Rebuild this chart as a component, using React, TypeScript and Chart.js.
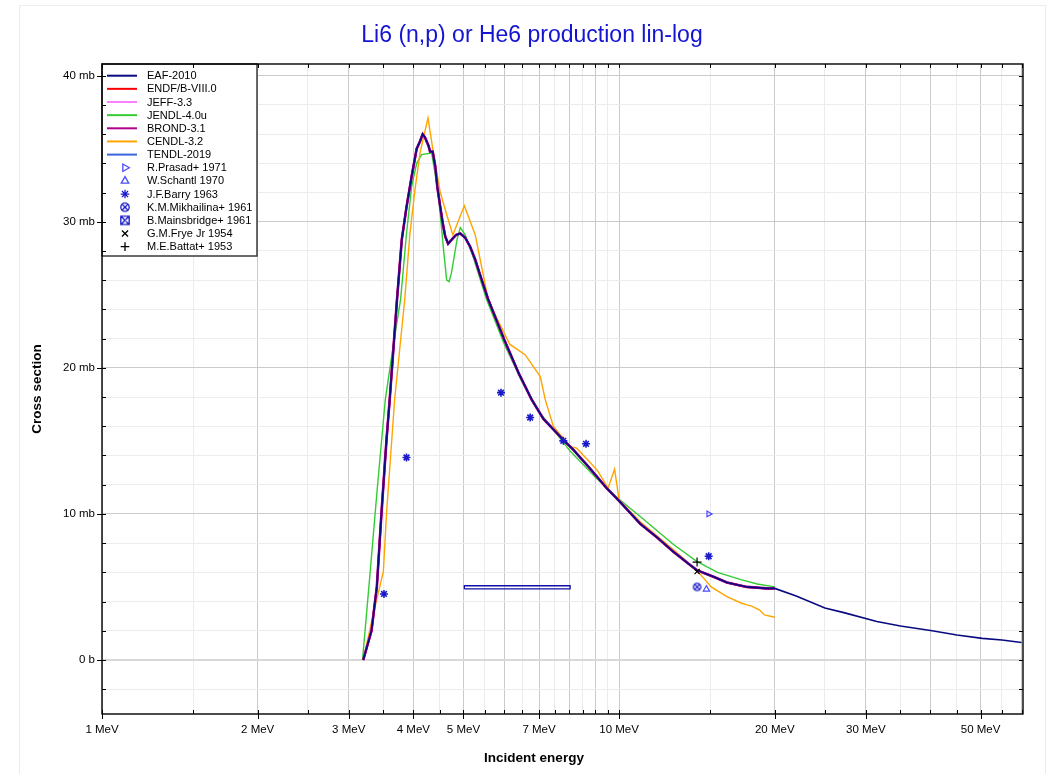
import React, { useEffect, useRef } from 'react';
import { Chart, registerables } from 'chart.js';
import { drawPoint } from 'chart.js/helpers';

Chart.register(...registerables);

// ---------- texts ----------
const TITLE = 'Li6 (n,p) or He6 production lin-log';
const X_TITLE = 'Incident energy';
const Y_TITLE = 'Cross section';

// ---------- axes ----------
const xTickValues = [1, 1.5, 2, 2.5, 3, 3.5, 4, 4.5, 5, 5.5, 6, 6.5, 7, 7.5, 8, 8.5, 9, 9.5, 10, 15, 20, 25, 30, 35, 40, 45, 50, 55, 60];
const xLabeled = [1, 2, 3, 4, 5, 7, 10, 20, 30, 50];
const xDarkGrid = [1, 2, 3, 4, 5, 6, 7, 8, 9, 10, 20, 30, 40, 50, 60];
const yTickValues = [-2, 0, 2, 4, 6, 8, 10, 12, 14, 16, 18, 20, 22, 24, 26, 28, 30, 32, 34, 36, 38, 40];
const yLabeled = [0, 10, 20, 30, 40];

// ---------- evaluations (MeV, mb) ----------
const evalEnergy = [3.2, 3.32, 3.4, 3.47, 3.55, 3.6, 3.72, 3.8, 3.88, 3.97, 4.06, 4.12, 4.17, 4.21, 4.28, 4.31, 4.36, 4.41, 4.45, 4.51, 4.56, 4.61, 4.67, 4.75, 4.84, 4.93, 5.04, 5.15, 5.27, 5.38, 5.58, 6.0, 6.4, 6.78, 7.14, 7.8, 8.16, 8.6, 8.72, 9.46, 10.03, 11.0, 11.83, 12.74, 13.72, 14.13, 15.22, 16.16, 17.66, 19.3, 20.0];
const evalXs = [0, 2.0, 5.0, 10.0, 15.1, 17.8, 24.7, 28.8, 31.0, 33.1, 35.0, 35.5, 36.0, 35.8, 35.2, 34.8, 34.8, 33.8, 32.4, 31.0, 29.9, 29.0, 28.5, 28.8, 29.1, 29.2, 28.9, 28.3, 27.4, 26.4, 24.7, 21.9, 19.6, 17.8, 16.5, 15.07, 14.38, 13.47, 13.24, 11.76, 10.84, 9.3, 8.4, 7.4, 6.5, 6.15, 5.7, 5.3, 5.0, 4.9, 4.9];

const eafTailEnergy = [22.0, 25.0, 27.2, 31.5, 35.0, 40.3, 45.0, 50.4, 55.0, 60.0];
const eafTailXs = [4.38, 3.55, 3.24, 2.63, 2.33, 2.0, 1.71, 1.48, 1.37, 1.2];

const jendlEnergy = [3.19, 3.3, 3.4, 3.53, 3.65, 3.78, 3.88, 3.97, 4.06, 4.15, 4.34, 4.47, 4.57, 4.64, 4.69, 4.74, 4.86, 4.93, 5.04, 5.22, 5.54, 6.0, 6.5, 7.04, 8.04, 9.0, 10.0, 11.0, 12.74, 14.13, 15.5, 17.2, 18.5, 20.0];
const jendlXs = [0, 6.0, 11.4, 17.8, 21.3, 24.7, 29.2, 32.4, 34.0, 34.6, 34.7, 32.0, 28.3, 26.0, 25.9, 26.5, 28.8, 29.6, 29.1, 27.6, 24.7, 21.6, 19.0, 16.9, 14.3, 12.5, 11.0, 9.8, 7.9, 6.75, 6.0, 5.5, 5.2, 5.0];

const cendlEnergy = [3.2, 3.35, 3.5, 3.55, 3.68, 3.85, 3.94, 4.03, 4.12, 4.27, 4.37, 4.51, 4.64, 4.77, 5.02, 5.27, 5.58, 5.8, 6.15, 6.58, 7.04, 7.2, 7.46, 8.04, 8.28, 9.07, 9.52, 9.8, 10.0, 11.0, 12.74, 14.13, 15.07, 16.16, 17.2, 17.66, 18.0, 18.7, 19.1, 20.0];
const cendlXs = [0, 3.2, 6.05, 10.05, 17.8, 24.7, 29.2, 32.2, 34.7, 37.1, 34.8, 32.0, 30.5, 29.1, 31.1, 29.1, 24.7, 23.4, 21.6, 20.9, 19.4, 17.8, 16.0, 14.6, 14.5, 13.0, 11.76, 13.06, 10.96, 9.45, 7.55, 6.15, 5.0, 4.34, 3.9, 3.77, 3.7, 3.42, 3.08, 2.92];

// ---------- experiments (MeV, mb) ----------
const prasadEnergy = [14.9];
const prasadXs = [10.0];
const schantlEnergy = [14.75];
const schantlXs = [4.84];
const barryEnergy = [3.51, 3.88, 5.91, 6.73, 7.8, 8.63, 14.9];
const barryXs = [4.52, 13.86, 18.3, 16.6, 15.0, 14.8, 7.1];
const mikhailinaEnergy = [14.15];
const mikhailinaXs = [5.0];
const mainsbridgeEnergyLow = [5.02];
const mainsbridgeEnergyHigh = [8.04];
const mainsbridgeXs = [4.97];
const mainsbridgeErr = [0.11];
const fryeEnergy = [14.15];
const fryeXs = [6.05];
const battatEnergy = [14.15];
const battatXs = [6.7];

const FONT = '"Liberation Sans", Arial, Helvetica, sans-serif';

const pts = (e: number[], v: number[]) => e.map((x, i) => ({ x, y: v[i] }));

function makeMarker(kind: 'circleX' | 'boxX', color: string, r: number): HTMLCanvasElement {
  const size = Math.ceil(2 * r + 3);
  const c = document.createElement('canvas');
  c.width = size;
  c.height = size;
  const g = c.getContext('2d')!;
  const m = size / 2;
  g.strokeStyle = color;
  g.lineWidth = 1.3;
  g.beginPath();
  if (kind === 'circleX') {
    g.arc(m, m, r, 0, Math.PI * 2);
    const d = r * 0.7;
    g.moveTo(m - d, m - d); g.lineTo(m + d, m + d);
    g.moveTo(m + d, m - d); g.lineTo(m - d, m + d);
  } else {
    g.rect(m - r, m - r, 2 * r, 2 * r);
    g.moveTo(m - r, m - r); g.lineTo(m + r, m + r);
    g.moveTo(m + r, m - r); g.lineTo(m - r, m + r);
  }
  g.stroke();
  return c;
}

const decorPlugin = {
  id: 'decor',
  beforeDraw(chart: any) {
    const ctx = chart.ctx;
    ctx.save();
    ctx.fillStyle = '#ffffff';
    ctx.fillRect(0, 0, chart.width, chart.height);
    ctx.strokeStyle = '#ececec';
    ctx.lineWidth = 1;
    ctx.strokeRect(19.5, 5.5, 1026, 800);
    ctx.restore();
  },
  afterDraw(chart: any) {
    const ctx: CanvasRenderingContext2D = chart.ctx;
    const a = chart.chartArea;
    const xs = chart.scales.x;
    const ys = chart.scales.y;
    ctx.save();

    // legend box
    const lgW = 155, lgH = 192;
    ctx.fillStyle = '#ffffff';
    ctx.fillRect(a.left, a.top, lgW, lgH);
    ctx.strokeStyle = '#3a3a3a';
    ctx.lineWidth = 1.5;
    ctx.strokeRect(a.left, a.top, lgW, lgH);

    const rowH = 13.15;
    const row0 = a.top + 11.7;
    ctx.font = `11px ${FONT}`;
    ctx.textBaseline = 'middle';
    ctx.textAlign = 'left';
    chart.data.datasets.forEach((ds: any) => {
      if (ds.legendIndex === undefined) return;
      const y = row0 + ds.legendIndex * rowH;
      if (ds.legendKind === 'line') {
        ctx.strokeStyle = ds.borderColor;
        ctx.lineWidth = 2;
        ctx.beginPath();
        ctx.moveTo(a.left + 5, y);
        ctx.lineTo(a.left + 35, y);
        ctx.stroke();
      } else {
        ctx.strokeStyle = ds.legendColor;
        ctx.fillStyle = 'rgba(0,0,0,0)';
        ctx.lineWidth = 1.3;
        drawPoint(ctx, {
          pointStyle: ds.legendStyle,
          radius: 4.3,
          rotation: ds.legendRotation || 0,
          borderWidth: 1.3,
        } as any, a.left + 23, y);
      }
      ctx.fillStyle = '#000';
      ctx.fillText(ds.label, a.left + 45, y + 0.5);
    });

    // tick marks
    ctx.strokeStyle = '#000';
    ctx.lineWidth = 1;
    ctx.beginPath();
    xs.ticks.forEach((t: any) => {
      const px = Math.round(xs.getPixelForValue(t.value)) + 0.5;
      const lab = xLabeled.includes(t.value);
      ctx.moveTo(px, a.bottom + (lab ? 5 : 0));
      ctx.lineTo(px, a.bottom - 4);
      ctx.moveTo(px, a.top);
      ctx.lineTo(px, a.top + 4);
    });
    ys.ticks.forEach((t: any) => {
      const py = Math.round(ys.getPixelForValue(t.value)) + 0.5;
      const lab = yLabeled.includes(t.value);
      ctx.moveTo(a.left - (lab ? 5 : 0), py);
      ctx.lineTo(a.left + 4, py);
      ctx.moveTo(a.right, py);
      ctx.lineTo(a.right - 4, py);
    });
    ctx.stroke();

    // frame
    ctx.strokeStyle = '#000';
    ctx.lineWidth = 1.4;
    ctx.strokeRect(a.left, a.top, a.right - a.left, a.bottom - a.top);

    // title
    ctx.fillStyle = '#1414d2';
    ctx.font = `23px ${FONT}`;
    ctx.textAlign = 'center';
    ctx.textBaseline = 'alphabetic';
    ctx.fillText(TITLE, 532, 42);

    // axis titles
    ctx.fillStyle = '#000';
    ctx.font = `bold 13.5px ${FONT}`;
    ctx.textBaseline = 'middle';
    ctx.fillText(X_TITLE, 534, 758);
    ctx.translate(37, (a.top + a.bottom) / 2);
    ctx.rotate(-Math.PI / 2);
    ctx.fillText(Y_TITLE, 0, 0);
    ctx.restore();
  },
};

export default function App() {
  const ref = useRef<HTMLCanvasElement>(null);

  useEffect(() => {
    const circleX = makeMarker('circleX', '#1a1ac8', 3.7);
    const circleXLegend = makeMarker('circleX', '#1a1ac8', 4.2);
    const boxXLegend = makeMarker('boxX', '#1a1ac8', 4.2);

    const line = (label: string, data: any[], color: string, width: number, order: number, legendIndex: number) => ({
      label,
      data,
      borderColor: color,
      backgroundColor: color,
      borderWidth: width,
      pointRadius: 0,
      tension: 0,
      fill: false,
      order,
      legendIndex,
      legendKind: 'line',
    });

    const marker = (label: string, data: any[], color: string, style: any, radius: number, width: number, legendIndex: number, legendStyle: any, rotation = 0) => ({
      label,
      data,
      showLine: false,
      pointStyle: style,
      pointRadius: radius,
      pointRotation: rotation,
      pointBorderColor: color,
      pointBackgroundColor: 'rgba(0,0,0,0)',
      pointBorderWidth: width,
      borderColor: color,
      backgroundColor: 'rgba(0,0,0,0)',
      order: 0,
      legendIndex,
      legendKind: 'marker',
      legendStyle,
      legendColor: color,
      legendRotation: rotation,
    });

    const mbLow = mainsbridgeEnergyLow[0];
    const mbHigh = mainsbridgeEnergyHigh[0];
    const mbY = mainsbridgeXs[0];
    const mbE = mainsbridgeErr[0];
    const mainsbridgeBox = [
      { x: mbLow, y: mbY - mbE },
      { x: mbHigh, y: mbY - mbE },
      { x: mbHigh, y: mbY + mbE },
      { x: mbLow, y: mbY + mbE },
      { x: mbLow, y: mbY - mbE },
    ];

    const datasets: any[] = [
      line('EAF-2010', pts(evalEnergy.concat(eafTailEnergy), evalXs.concat(eafTailXs)), '#0a0a80', 1.6, 1, 0),
      line('ENDF/B-VIII.0', pts(evalEnergy, evalXs), '#ff0000', 2, 5, 1),
      line('JEFF-3.3', pts(evalEnergy, evalXs), '#ff80ff', 2, 6, 2),
      line('JENDL-4.0u', pts(jendlEnergy, jendlXs), '#33cc33', 1.4, 4, 3),
      line('BROND-3.1', pts(evalEnergy, evalXs), '#b0008c', 2.6, 2, 4),
      line('CENDL-3.2', pts(cendlEnergy, cendlXs), '#ffa500', 1.4, 3, 5),
      line('TENDL-2019', pts(evalEnergy, evalXs), '#3c64dc', 2, 7, 6),
      marker('R.Prasad+ 1971', pts(prasadEnergy, prasadXs), '#4a4aff', 'triangle', 3.4, 1.2, 7, 'triangle', 90),
      marker('W.Schantl 1970', pts(schantlEnergy, schantlXs), '#4a4aff', 'triangle', 3.6, 1.2, 8, 'triangle'),
      marker('J.F.Barry 1963', pts(barryEnergy, barryXs), '#1a1acc', 'star', 4, 1.6, 9, 'star'),
      marker('K.M.Mikhailina+ 1961', pts(mikhailinaEnergy, mikhailinaXs), '#1a1ac8', circleX, 3.7, 1.2, 10, circleXLegend),
      {
        label: 'B.Mainsbridge+ 1961',
        data: mainsbridgeBox,
        borderColor: '#1010a8',
        backgroundColor: 'rgba(0,0,0,0)',
        borderWidth: 1.3,
        pointRadius: 0,
        tension: 0,
        fill: false,
        order: 0,
        legendIndex: 11,
        legendKind: 'marker',
        legendStyle: boxXLegend,
        legendColor: '#1a1ac8',
      },
      marker('G.M.Frye Jr 1954', pts(fryeEnergy, fryeXs), '#000000', 'crossRot', 3.6, 1.2, 12, 'crossRot'),
      marker('M.E.Battat+ 1953', pts(battatEnergy, battatXs), '#000000', 'cross', 4.5, 1.2, 13, 'cross'),
    ];

    const chart = new Chart(ref.current!, {
      type: 'line',
      data: { datasets },
      options: {
        responsive: false,
        animation: false,
        devicePixelRatio: 1,
        events: [],
        layout: { padding: { left: 0, right: 26, top: 64, bottom: 0 } },
        plugins: {
          legend: { display: false },
          title: { display: false },
          tooltip: { enabled: false },
        },
        scales: {
          x: {
            type: 'logarithmic',
            min: 1,
            max: 60.4,
            afterBuildTicks: (scale: any) => {
              scale.ticks = xTickValues.map((v) => ({ value: v }));
            },
            afterFit: (scale: any) => {
              scale.height = 60;
            },
            border: { display: false },
            grid: {
              drawTicks: false,
              lineWidth: 1,
              color: (c: any) => (xDarkGrid.includes(c.tick?.value) ? '#cbcbcb' : '#ececec'),
            },
            ticks: {
              autoSkip: false,
              maxRotation: 0,
              minRotation: 0,
              padding: 9,
              color: '#000',
              font: { family: FONT, size: 11.5 },
              callback: (v: any) => (xLabeled.includes(Number(v)) ? `${v} MeV` : ''),
            },
          },
          y: {
            type: 'linear',
            min: -3.7,
            max: 40.8,
            afterBuildTicks: (scale: any) => {
              scale.ticks = yTickValues.map((v) => ({ value: v }));
            },
            afterFit: (scale: any) => {
              scale.width = 102;
            },
            border: { display: false },
            grid: {
              drawTicks: false,
              lineWidth: (c: any) => (c.tick?.value === 0 ? 2 : 1),
              color: (c: any) => {
                const v = c.tick?.value;
                if (v === 0) return '#d9d9d9';
                return yLabeled.includes(v) ? '#cbcbcb' : '#ececec';
              },
            },
            ticks: {
              autoSkip: false,
              padding: 7,
              color: '#000',
              font: { family: FONT, size: 11.5 },
              callback: (v: any) => {
                const n = Number(v);
                if (!yLabeled.includes(n)) return '';
                return n === 0 ? '0 b' : `${n} mb`;
              },
            },
          },
        },
      } as any,
      plugins: [decorPlugin as any],
    });
    return () => chart.destroy();
  }, []);

  return (
    <div style={{ position: 'absolute', left: 0, top: 0, width: 1049, height: 774, background: '#fff' }}>
      <canvas ref={ref} width={1049} height={774} style={{ display: 'block', width: 1049, height: 774 }} />
    </div>
  );
}
